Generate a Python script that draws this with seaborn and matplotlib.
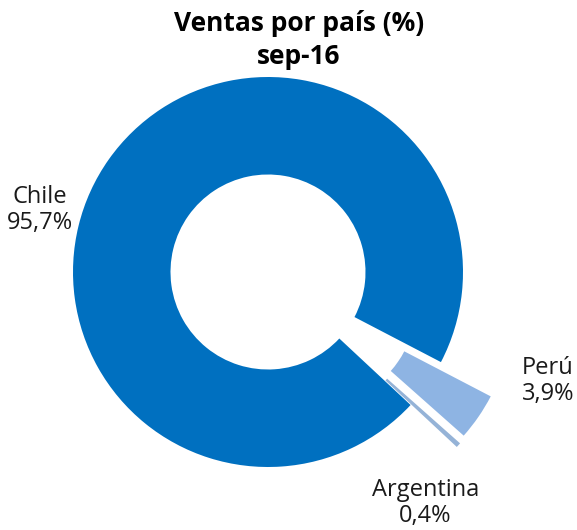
import matplotlib
matplotlib.use("Agg")
import matplotlib.pyplot as plt
import seaborn as sns

countries = ["Chile", "Perú", "Argentina"]
shares = [95.7, 3.9, 0.4]
value_labels = ["95,7%", "3,9%", "0,4%"]
colors = ["#0070C0", "#8EB4E3", "#95B3D7"]
explode = [0.0, 0.31, 0.32]

sns.set_theme(style="white")
plt.rcParams['font.family'] = ['Open Sans', 'DejaVu Sans']

fig = plt.figure(figsize=(5.77, 5.30), dpi=100)
ax = fig.add_axes([0, 0, 1, 1])
ax.pie(shares, colors=colors, startangle=-43, counterclock=False,
       explode=explode, radius=1.0,
       wedgeprops=dict(width=0.5, edgecolor="none", linewidth=0))
ax.set_xlim(-268 / 195, (577 - 268) / 195)
ax.set_ylim(-258 / 195, 272 / 195)
ax.set_aspect("auto")
ax.axis("off")

label_pos = [(-1.169, 0.318), (1.436, -0.559), (0.808, -1.185)]
for name, val, (x, y) in zip(countries, value_labels, label_pos):
    ax.text(x, y, f"{name}\n{val}", ha="center", va="center",
            fontsize=17, color="#1a1a1a", linespacing=1.15)

fig.text(299 / 577, 1 - 40 / 530, "Ventas por país (%)\nsep-16", ha="center",
         va="center", fontsize=19, fontweight="bold", color="black",
         linespacing=1.25)

fig.savefig("out.png", dpi=100)
